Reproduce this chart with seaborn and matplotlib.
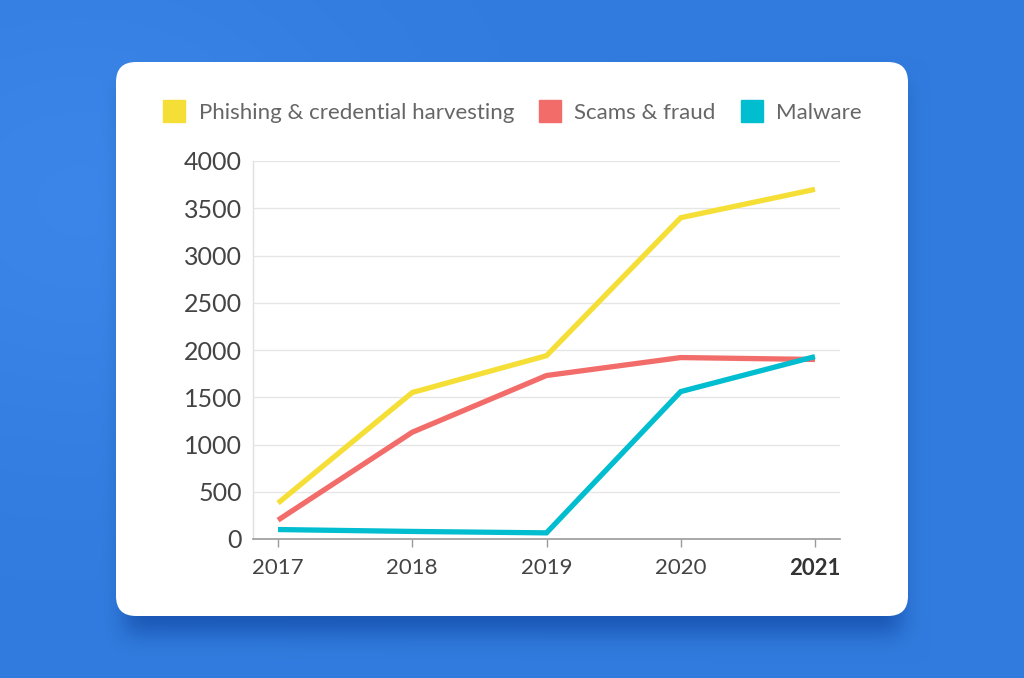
import numpy as np
import pandas as pd
import matplotlib
matplotlib.use("Agg")
import matplotlib.pyplot as plt
import seaborn as sns
from matplotlib.patches import FancyBboxPatch
from matplotlib.lines import Line2D

years = [2017, 2018, 2019, 2020, 2021]
phishing = [380, 1550, 1940, 3400, 3700]
scams = [200, 1130, 1730, 1920, 1900]
malware = [100, 80, 65, 1560, 1930]
series_names = ["Phishing & credential harvesting", "Scams & fraud", "Malware"]
colors = ["#F5DF36", "#F26C6A", "#00BDCF"]
y_ticks = [0, 500, 1000, 1500, 2000, 2500, 3000, 3500, 4000]

df = pd.DataFrame({
    "year": years * 3,
    "value": phishing + scams + malware,
    "series": [series_names[0]] * 5 + [series_names[1]] * 5 + [series_names[2]] * 5,
})

sns.set_theme(style="white")
plt.rcParams["font.family"] = ["Lato", "DejaVu Sans"]

W, H = 1024, 678
fig = plt.figure(figsize=(W / 100, H / 100), dpi=100)

# background with soft shadow
bg = fig.add_axes([0, 0, 1, 1], zorder=0)
bg.set_axis_off()
yy, xx = np.mgrid[0:H, 0:W]
mask = ((xx >= 125) & (xx <= 900) & (yy >= 85) & (yy <= 632)).astype(float)
def blur(a, r):
    k = np.ones(2 * r + 1) / (2 * r + 1)
    for _ in range(3):
        a = np.apply_along_axis(lambda v: np.convolve(v, k, mode="same"), 0, a)
        a = np.apply_along_axis(lambda v: np.convolve(v, k, mode="same"), 1, a)
    return a
sh = blur(mask, 10)
base = np.array([48, 123, 221]) / 255.0
dark = np.array([26, 86, 180]) / 255.0
img = base[None, None, :] * (1 - sh[..., None]) + dark[None, None, :] * sh[..., None]
grad = np.exp(-(((xx - 80) / 300.0) ** 2 + ((yy - 200) / 250.0) ** 2))
img = img + 0.04 * grad[..., None]
bg.imshow(np.clip(img, 0, 1), extent=[0, W, H, 0], aspect="auto", zorder=0)
bg.set_xlim(0, W)
bg.set_ylim(H, 0)

card = FancyBboxPatch((1.16, (H - 616) / 100), 9.08 - 1.16, (616 - 62) / 100,
                      boxstyle="round,pad=0,rounding_size=0.2",
                      transform=fig.dpi_scale_trans, facecolor="white",
                      edgecolor="none", zorder=1)
bg.add_patch(card)

ax = fig.add_axes([253 / W, 1 - 539 / H, (840 - 253) / W, (539 - 161) / H], zorder=2)
ax.set_facecolor("none")
sns.lineplot(data=df, x="year", y="value", hue="series", palette=colors,
             hue_order=series_names, linewidth=3.8, ax=ax, legend=False)
for ln in ax.lines:
    ln.set_solid_capstyle("butt")
    ln.set_solid_joinstyle("miter")

ax.set_xlim(2017 - 25 / 134, 2021 + 25 / 134)
ax.set_ylim(0, 4000)
ax.set_yticks(y_ticks)
ax.set_yticklabels([str(v) for v in y_ticks], fontsize=18, color="#444444")
ax.set_xticks(years)
ax.set_xticklabels([str(y) for y in years], fontsize=16, color="#444444")
ax.get_xticklabels()[-1].set_fontweight("bold")
ax.get_xticklabels()[-1].set_color("#333333")
ax.set_xlabel("")
ax.set_ylabel("")
ax.grid(axis="y", color="#E6E6E6", linewidth=1)
ax.set_axisbelow(True)
for s in ["top", "right"]:
    ax.spines[s].set_visible(False)
ax.spines["left"].set_color("#E0E0E0")
ax.spines["left"].set_linewidth(1)
ax.spines["bottom"].set_color("#9A9A9A")
ax.spines["bottom"].set_linewidth(1.2)
ax.tick_params(axis="x", bottom=True, length=6, width=1, color="#9A9A9A", pad=8)
ax.tick_params(axis="y", left=False, length=0, pad=8)

handles = [Line2D([0], [0], marker="s", linestyle="none", markersize=16,
                  markerfacecolor=c, markeredgecolor=c) for c in colors]
leg = fig.legend(handles, series_names, loc="center left",
                 bbox_to_anchor=(143 / W, 1 - 113 / H), ncol=3, frameon=False,
                 fontsize=16, labelcolor="#666666", handletextpad=0.6,
                 columnspacing=1.12, handlelength=1.0)
leg.set_zorder(3)

fig.savefig("out.png", dpi=100)
